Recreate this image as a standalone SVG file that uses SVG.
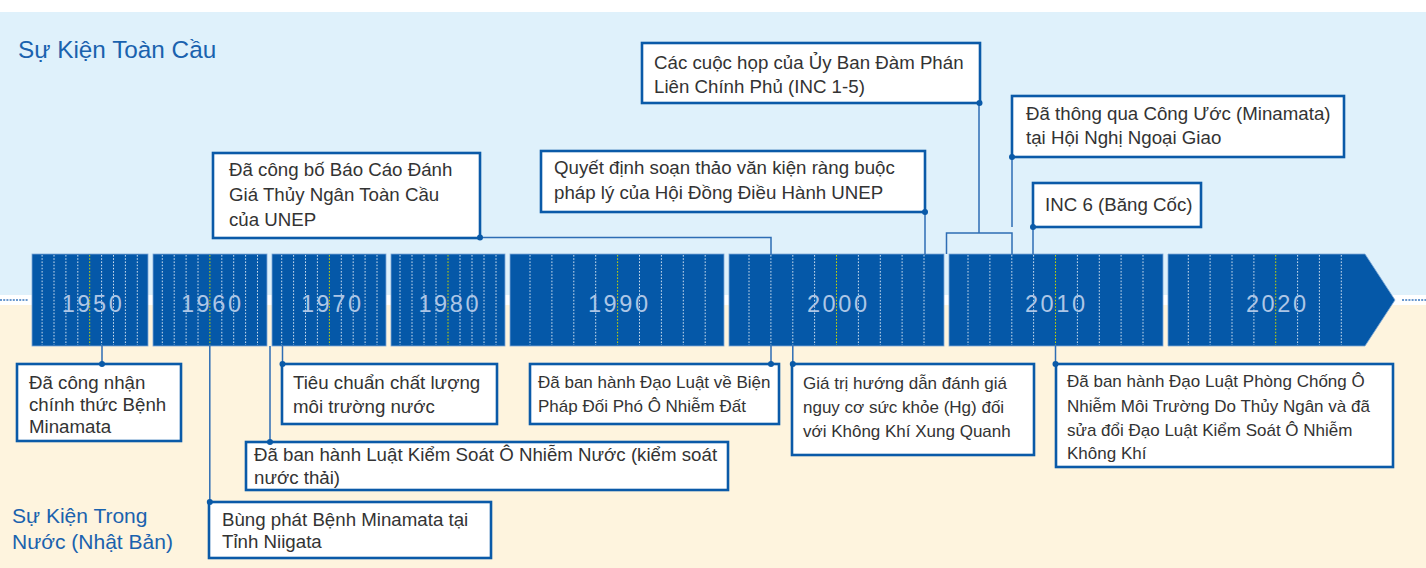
<svg xmlns="http://www.w3.org/2000/svg" width="1426" height="568" viewBox="0 0 1426 568">
<defs>
<style>
.bg-top{fill:#dff1fb}
.bg-bot{fill:#fef4de}
.title{font-family:"Liberation Sans",Arial,sans-serif;fill:#1a62ae}
.seg{fill:#0558a8;stroke:#7ea8d6;stroke-width:0.8}
.tick{stroke:#ffffff;stroke-width:1;stroke-dasharray:1.6 1.6;opacity:0.8}
.tick5{stroke:#c8d400;stroke-width:1;stroke-dasharray:1.6 1.6}
.dec{font-family:"Liberation Sans",Arial,sans-serif;font-size:23.5px;letter-spacing:2.6px;fill:#adc6e6;text-anchor:middle}
.box{fill:#ffffff;stroke:#0a5aa8;stroke-width:2.6}
.txt{font-family:"Liberation Sans",Arial,sans-serif;font-size:18.7px;fill:#333333}
.sm{font-size:17px}
.con{fill:none;stroke:#2e6db4;stroke-width:1.5}
.dot{fill:#0a5aa8}
.div{stroke:#3a78c0;stroke-width:1.5;stroke-dasharray:2 1.2}
</style>
</defs>

<rect x="0" y="0" width="1426" height="568" fill="#ffffff"/>
<rect class="bg-top" x="0" y="12" width="1426" height="283"/>
<rect class="bg-bot" x="0" y="305" width="1426" height="263"/>
<line class="div" x1="0" y1="300" x2="28" y2="300"/>
<line class="div" x1="1402" y1="300" x2="1426" y2="300"/>

<text class="title" x="18" y="58" font-size="24.3">Sự Kiện Toàn Cầu</text>
<text class="title" x="12" y="523" font-size="21">Sự Kiện Trong</text>
<text class="title" x="12" y="549" font-size="21">Nước (Nhật Bản)</text>

<g id="timeline">
<rect class="seg" x="32" y="254" width="116" height="92"/>
<rect class="seg" x="153" y="254" width="114" height="92"/>
<rect class="seg" x="272" y="254" width="114" height="92"/>
<rect class="seg" x="391" y="254" width="114" height="92"/>
<rect class="seg" x="510" y="254" width="214" height="92"/>
<rect class="seg" x="729" y="254" width="215" height="92"/>
<rect class="seg" x="949" y="254" width="214" height="92"/>
<polygon class="seg" points="1168,254 1365,254 1395,300 1365,346 1168,346"/>
<g id="ticks">
<line class="tick" x1="42.1" y1="255" x2="42.1" y2="345"/><line class="tick" x1="54" y1="255" x2="54" y2="345"/><line class="tick" x1="65.9" y1="255" x2="65.9" y2="345"/><line class="tick" x1="77.8" y1="255" x2="77.8" y2="345"/><line class="tick5" x1="89.7" y1="255" x2="89.7" y2="345"/><line class="tick" x1="101.6" y1="255" x2="101.6" y2="345"/><line class="tick" x1="113.5" y1="255" x2="113.5" y2="345"/><line class="tick" x1="125.4" y1="255" x2="125.4" y2="345"/><line class="tick" x1="137.3" y1="255" x2="137.3" y2="345"/>
<line class="tick" x1="162.3" y1="255" x2="162.3" y2="345"/><line class="tick" x1="174.2" y1="255" x2="174.2" y2="345"/><line class="tick" x1="186.1" y1="255" x2="186.1" y2="345"/><line class="tick" x1="198" y1="255" x2="198" y2="345"/><line class="tick5" x1="209.9" y1="255" x2="209.9" y2="345"/><line class="tick" x1="221.8" y1="255" x2="221.8" y2="345"/><line class="tick" x1="233.7" y1="255" x2="233.7" y2="345"/><line class="tick" x1="245.6" y1="255" x2="245.6" y2="345"/><line class="tick" x1="257.5" y1="255" x2="257.5" y2="345"/>
<line class="tick" x1="281.7" y1="255" x2="281.7" y2="345"/><line class="tick" x1="293.6" y1="255" x2="293.6" y2="345"/><line class="tick" x1="305.5" y1="255" x2="305.5" y2="345"/><line class="tick" x1="317.4" y1="255" x2="317.4" y2="345"/><line class="tick5" x1="329.4" y1="255" x2="329.4" y2="345"/><line class="tick" x1="341.3" y1="255" x2="341.3" y2="345"/><line class="tick" x1="353.2" y1="255" x2="353.2" y2="345"/><line class="tick" x1="365.1" y1="255" x2="365.1" y2="345"/><line class="tick" x1="377" y1="255" x2="377" y2="345"/>
<line class="tick" x1="400" y1="255" x2="400" y2="345"/><line class="tick" x1="412" y1="255" x2="412" y2="345"/><line class="tick" x1="424" y1="255" x2="424" y2="345"/><line class="tick" x1="436" y1="255" x2="436" y2="345"/><line class="tick5" x1="448" y1="255" x2="448" y2="345"/><line class="tick" x1="460" y1="255" x2="460" y2="345"/><line class="tick" x1="472" y1="255" x2="472" y2="345"/><line class="tick" x1="484" y1="255" x2="484" y2="345"/><line class="tick" x1="496" y1="255" x2="496" y2="345"/>
<line class="tick" x1="530" y1="255" x2="530" y2="345"/><line class="tick" x1="551.9" y1="255" x2="551.9" y2="345"/><line class="tick" x1="573.8" y1="255" x2="573.8" y2="345"/><line class="tick" x1="595.7" y1="255" x2="595.7" y2="345"/><line class="tick5" x1="617.6" y1="255" x2="617.6" y2="345"/><line class="tick" x1="639.5" y1="255" x2="639.5" y2="345"/><line class="tick" x1="661.4" y1="255" x2="661.4" y2="345"/><line class="tick" x1="683.3" y1="255" x2="683.3" y2="345"/><line class="tick" x1="705.2" y1="255" x2="705.2" y2="345"/>
<line class="tick" x1="749" y1="255" x2="749" y2="345"/><line class="tick" x1="770.9" y1="255" x2="770.9" y2="345"/><line class="tick" x1="792.8" y1="255" x2="792.8" y2="345"/><line class="tick" x1="814.6" y1="255" x2="814.6" y2="345"/><line class="tick5" x1="836.5" y1="255" x2="836.5" y2="345"/><line class="tick" x1="858.4" y1="255" x2="858.4" y2="345"/><line class="tick" x1="880.3" y1="255" x2="880.3" y2="345"/><line class="tick" x1="902.1" y1="255" x2="902.1" y2="345"/><line class="tick" x1="924" y1="255" x2="924" y2="345"/>
<line class="tick" x1="968" y1="255" x2="968" y2="345"/><line class="tick" x1="989.9" y1="255" x2="989.9" y2="345"/><line class="tick" x1="1011.8" y1="255" x2="1011.8" y2="345"/><line class="tick" x1="1033.6" y1="255" x2="1033.6" y2="345"/><line class="tick5" x1="1055.5" y1="255" x2="1055.5" y2="345"/><line class="tick" x1="1077.4" y1="255" x2="1077.4" y2="345"/><line class="tick" x1="1099.3" y1="255" x2="1099.3" y2="345"/><line class="tick" x1="1121.1" y1="255" x2="1121.1" y2="345"/><line class="tick" x1="1143" y1="255" x2="1143" y2="345"/>
<line class="tick" x1="1188.3" y1="255" x2="1188.3" y2="345"/><line class="tick" x1="1210.1" y1="255" x2="1210.1" y2="345"/><line class="tick" x1="1232" y1="255" x2="1232" y2="345"/><line class="tick" x1="1253.9" y1="255" x2="1253.9" y2="345"/><line class="tick5" x1="1275.7" y1="255" x2="1275.7" y2="345"/><line class="tick" x1="1297.6" y1="255" x2="1297.6" y2="345"/><line class="tick" x1="1319.4" y1="255" x2="1319.4" y2="345"/><line class="tick" x1="1341.3" y1="255" x2="1341.3" y2="345"/>
</g>
<text class="dec" x="93" y="312">1950</text>
<text class="dec" x="212.3" y="312">1960</text>
<text class="dec" x="332.3" y="312">1970</text>
<text class="dec" x="449.8" y="312">1980</text>
<text class="dec" x="619.3" y="312">1990</text>
<text class="dec" x="838.3" y="312">2000</text>
<text class="dec" x="1056.3" y="312">2010</text>
<text class="dec" x="1277.3" y="312">2020</text>
</g>

<g id="connectors">
<polyline class="con" points="480,237.5 771,237.5 771,254"/>
<line class="con" x1="925" y1="212" x2="925" y2="254"/>
<line class="con" x1="979" y1="103" x2="979" y2="233"/>
<polyline class="con" points="946.5,254 946.5,233 1012,233 1012,254"/>
<line class="con" x1="1012" y1="157" x2="1012" y2="227"/>
<line class="con" x1="1033" y1="227" x2="1033" y2="254"/>
<line class="con" x1="102" y1="346" x2="102" y2="364"/>
<line class="con" x1="209.8" y1="346" x2="209.8" y2="502"/>
<line class="con" x1="270" y1="346" x2="270" y2="442"/>
<line class="con" x1="282.5" y1="346" x2="282.5" y2="364"/>
<line class="con" x1="771" y1="346" x2="771" y2="364"/>
<line class="con" x1="792.8" y1="346" x2="792.8" y2="364"/>
<line class="con" x1="1055.5" y1="346" x2="1055.5" y2="364"/>
</g>

<g id="n-inc15">
<rect class="box" x="642" y="43" width="338" height="60"/>
<text class="txt" x="654" y="69">Các cuộc họp của Ủy Ban Đàm Phán</text>
<text class="txt" x="654" y="93">Liên Chính Phủ (INC 1-5)</text>
<circle class="dot" cx="979.5" cy="103" r="3"/>
</g>
<g id="n-convention">
<rect class="box" x="1012" y="96" width="332" height="61"/>
<text class="txt" x="1026" y="120">Đã thông qua Công Ước (Minamata)</text>
<text class="txt" x="1026" y="144">tại Hội Nghị Ngoại Giao</text>
<circle class="dot" cx="1012" cy="157" r="3"/>
</g>
<g id="n-inc6">
<rect class="box" x="1033" y="183" width="168" height="44"/>
<text class="txt" x="1045" y="211">INC 6 (Băng Cốc)</text>
<circle class="dot" cx="1033" cy="227" r="3"/>
</g>
<g id="n-unep-decision">
<rect class="box" x="541" y="151" width="384" height="61"/>
<text class="txt" x="554" y="174">Quyết định soạn thảo văn kiện ràng buộc</text>
<text class="txt" x="554" y="199">pháp lý của Hội Đồng Điều Hành UNEP</text>
<circle class="dot" cx="925" cy="212" r="3"/>
</g>
<g id="n-unep-report">
<rect class="box" x="213" y="153" width="267" height="85"/>
<text class="txt" x="229" y="176">Đã công bố Báo Cáo Đánh</text>
<text class="txt" x="229" y="201">Giá Thủy Ngân Toàn Cầu</text>
<text class="txt" x="229" y="226">của UNEP</text>
<circle class="dot" cx="480" cy="237.5" r="3"/>
</g>

<g id="n-recognition">
<rect class="box" x="17" y="364" width="164" height="77"/>
<text class="txt" x="29" y="389">Đã công nhận</text>
<text class="txt" x="29" y="411">chính thức Bệnh</text>
<text class="txt" x="29" y="433">Minamata</text>
<circle class="dot" cx="102" cy="364" r="3"/>
</g>
<g id="n-niigata">
<rect class="box" x="209" y="502" width="282" height="56"/>
<text class="txt" x="222" y="526">Bùng phát Bệnh Minamata tại</text>
<text class="txt" x="222" y="548">Tỉnh Niigata</text>
<circle class="dot" cx="209.8" cy="502" r="3"/>
</g>
<g id="n-water-law">
<rect class="box" x="246" y="442" width="482" height="48"/>
<text class="txt" x="254" y="461">Đã ban hành Luật Kiểm Soát Ô Nhiễm Nước (kiểm soát</text>
<text class="txt" x="254" y="484">nước thải)</text>
<circle class="dot" cx="270" cy="442" r="3"/>
</g>
<g id="n-water-std">
<rect class="box" x="282" y="364" width="215" height="60"/>
<text class="txt" x="293" y="389">Tiêu chuẩn chất lượng</text>
<text class="txt" x="293" y="413">môi trường nước</text>
<circle class="dot" cx="282.5" cy="364" r="3"/>
</g>
<g id="n-soil-law">
<rect class="box" x="530" y="364" width="249" height="60"/>
<text class="txt sm" x="538" y="388">Đã ban hành Đạo Luật về Biện</text>
<text class="txt sm" x="538" y="412">Pháp Đối Phó Ô Nhiễm Đất</text>
<circle class="dot" cx="771" cy="364" r="3"/>
</g>
<g id="n-guideline">
<rect class="box" x="792" y="364" width="242" height="91"/>
<text class="txt sm" x="803" y="389">Giá trị hướng dẫn đánh giá</text>
<text class="txt sm" x="803" y="413">nguy cơ sức khỏe (Hg) đối</text>
<text class="txt sm" x="803" y="437">với Không Khí Xung Quanh</text>
<circle class="dot" cx="792.8" cy="364" r="3"/>
</g>
<g id="n-mercury-law">
<rect class="box" x="1056" y="364" width="337" height="103"/>
<text class="txt sm" x="1067" y="387">Đã ban hành Đạo Luật Phòng Chống Ô</text>
<text class="txt sm" x="1067" y="412">Nhiễm Môi Trường Do Thủy Ngân và đã</text>
<text class="txt sm" x="1067" y="436">sửa đổi Đạo Luật Kiểm Soát Ô Nhiễm</text>
<text class="txt sm" x="1067" y="459">Không Khí</text>
<circle class="dot" cx="1055.5" cy="364" r="3"/>
</g>
</svg>
